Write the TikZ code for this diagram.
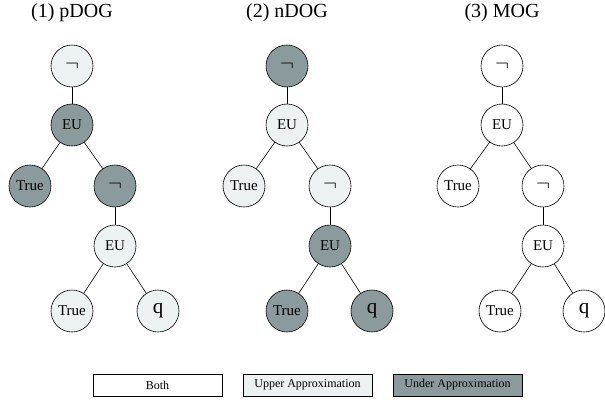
\documentclass[tikz,border=0pt]{standalone}
\usepackage{fontspec}
\setmainfont{Liberation Serif}
\definecolor{darkfill}{HTML}{8B9B9D}
\definecolor{lightfill}{HTML}{ECF1F1}
\tikzset{
  tn/.style={circle, draw=black, line width=0.6pt, minimum size=42pt, inner sep=0pt, font=\fontsize{15}{15}\selectfont},
  nd/.style={tn, fill=darkfill},
  nl/.style={tn, fill=lightfill},
  nw/.style={tn, fill=white},
  edge/.style={draw=black, line width=0.6pt},
  ttl/.style={font=\fontsize{20}{20}\selectfont, inner sep=0pt},
  legbox/.style={draw=black, line width=0.8pt, minimum width=129pt, minimum height=22pt, inner sep=0pt, font=\fontsize{12}{12}\selectfont},
}
\newcommand{\negsym}{\raisebox{0.1ex}{\fontsize{22}{22}\selectfont$\neg$}}
\newcommand{\qsym}{\fontsize{21}{21}\selectfont q}
\begin{document}
\begin{tikzpicture}[x=1pt,y=-1pt]
\useasboundingbox (0,0) rectangle (605,402);
% titles
\node[ttl] (t1) at (72,13) {(1) pDOG};
\node[ttl] (t2) at (287,13) {(2) nDOG};
\node[ttl] (t3) at (502,13) {(3) MOG};
% tree 1
\node[nl] (a1) at (72,66) {\negsym};
\node[nd] (a2) at (72,125) {EU};
\node[nd] (a3) at (30,186) {True};
\node[nd] (a4) at (115,186) {\negsym};
\node[nl] (a5) at (115,246) {EU};
\node[nl] (a6) at (72,311) {True};
\node[nl] (a7) at (158,311) {\qsym};
% tree 2
\node[nd] (b1) at (287,66) {\negsym};
\node[nl] (b2) at (287,125) {EU};
\node[nl] (b3) at (244,186) {True};
\node[nl] (b4) at (330,186) {\negsym};
\node[nd] (b5) at (330,246) {EU};
\node[nd] (b6) at (287,311) {True};
\node[nd] (b7) at (372,311) {\qsym};
% tree 3
\node[nw] (c1) at (502,66) {\negsym};
\node[nw] (c2) at (502,125) {EU};
\node[nw] (c3) at (458,186) {True};
\node[nw] (c4) at (543,186) {\negsym};
\node[nw] (c5) at (543,246) {EU};
\node[nw] (c6) at (500,311) {True};
\node[nw] (c7) at (584,311) {\qsym};
\foreach \t in {a,b,c}{
  \draw[edge] (\t1) -- (\t2);
  \draw[edge] (\t2) -- (\t3);
  \draw[edge] (\t2) -- (\t4);
  \draw[edge] (\t4) -- (\t5);
  \draw[edge] (\t5) -- (\t6);
  \draw[edge] (\t5) -- (\t7);
}
% legend
\node[legbox, fill=white] (l1) at (157.5,385) {Both};
\node[legbox, fill=lightfill] (l2) at (307.5,385) {Upper Approximation};
\node[legbox, fill=darkfill] (l3) at (457.5,385) {Under Approximation};
\end{tikzpicture}
\end{document}
